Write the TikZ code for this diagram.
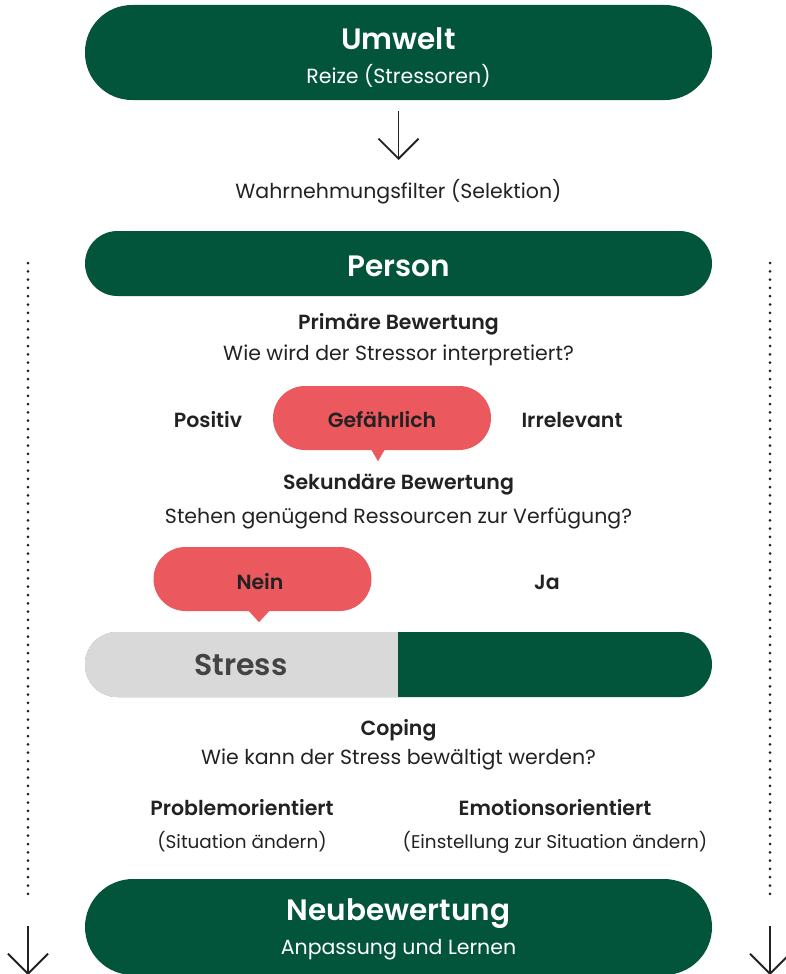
\documentclass[tikz,border=0pt]{standalone}
\usepackage{fontspec}
\setmainfont{Poppins}[BoldFont={Poppins SemiBold}]
\usetikzlibrary{arrows.meta}
\definecolor{darkgreen}{HTML}{02553A}
\definecolor{alarmred}{HTML}{EB585D}
\definecolor{lightgrey}{HTML}{D9D9D9}
\definecolor{ink}{HTML}{222222}

\begin{document}
\begin{tikzpicture}[x=1pt,y=-1pt,
        pill/.style={fill=darkgreen,minimum width=627pt,rounded corners=#1,inner sep=0pt},
        bubble/.style={fill=alarmred,minimum width=218pt,minimum height=64pt,rounded corners=32pt,inner sep=0pt},
        title/.style={text=white,yshift=-2pt,font=\bfseries\fontsize{29.5}{34}\selectfont},
        sub/.style={text=white,yshift=-2pt,font=\fontsize{20.5}{24}\selectfont},
        txt/.style={text=ink,yshift=-2pt,font=\fontsize{20.5}{24}\selectfont},
        lbl/.style={text=ink,yshift=-2pt,font=\bfseries\fontsize{20.5}{24}\selectfont},
        small/.style={text=ink,yshift=-2pt,font=\fontsize{18.4}{22}\selectfont},
        chev/.style={-{Straight Barb[length=20pt,width=40pt]},line width=1.8pt,ink},
        dots/.style={line width=3pt,line cap=round,dash pattern=on 0pt off 8.3pt,ink}]
            \useasboundingbox (0,0) rectangle (785,974);
            \node[pill=47pt,minimum height=95pt] (umwelt) at (398.5,52.5) {};
            \node[title] (umwelttitle) at (398.5,37) {Umwelt};
            \node[sub] (reize) at (398.5,74) {Reize (Stressoren)};
            \coordinate (pfeiloben) at (398.5,111);
            \coordinate (pfeilunten) at (398.5,160);
            \node[txt] (filter) at (398.5,190) {Wahrnehmungsfilter (Selektion)};
            \draw[chev] (pfeiloben) -- (pfeilunten);
            \node[pill=32.5pt,minimum height=65pt] (person) at (398.5,263.5) {};
            \node[title] (persontitle) at (398.5,264) {Person};
            \node[lbl] (primaer) at (398.5,322) {Primäre Bewertung};
            \node[txt] (frage1) at (398.5,353) {Wie wird der Stressor interpretiert?};
            \node[bubble] (gefahr) at (382,418) {};
            \fill[alarmred] ([xshift=-11pt,yshift=1pt]gefahr.south) -- ([xshift=-4pt,yshift=-11pt]gefahr.south) -- ([xshift=3pt,yshift=1pt]gefahr.south) -- cycle;
            \node[lbl] (gefahrtext) at (382,418) {Gefährlich};
            \node[lbl] (positiv) at (208,418) {Positiv};
            \node[lbl] (irrelevant) at (572,418) {Irrelevant};
            \node[lbl] (sekundaer) at (398.5,483) {Sekundäre Bewertung};
            \node[txt] (frage2) at (398.5,516) {Stehen genügend Ressourcen zur Verfügung?};
            \node[bubble] (nein) at (262.5,579) {};
            \fill[alarmred] ([xshift=-14.5pt,yshift=1pt]nein.south) -- ([xshift=-3.5pt,yshift=-11pt]nein.south) -- ([xshift=7.5pt,yshift=1pt]nein.south) -- cycle;
            \node[lbl] (neintext) at (260,580) {Nein};
            \node[lbl] (ja) at (547,580) {Ja};
            \node[pill=32.5pt,minimum height=65pt] (balken) at (398.5,664.5) {};
            \begin{scope}
                \clip[rounded corners=32.5pt] (balken.north west) rectangle (balken.south east);
                \fill[lightgrey] (balken.north west) rectangle ([xshift=-0.5pt]balken.south);
            \end{scope}
            \node[font=\bfseries\fontsize{30}{34}\selectfont,text=ink!85,yshift=-1pt] (stress) at (241,664) {Stress};
            \node[lbl] (coping) at (398.5,728) {Coping};
            \node[txt] (frage3) at (398.5,757) {Wie kann der Stress bewältigt werden?};
            \node[lbl] (problem) at (242,806) {Problemorientiert};
            \node[lbl] (emotion) at (555,806) {Emotionsorientiert};
            \node[small] (problemtext) at (242,840) {(Situation ändern)};
            \node[small] (emotiontext) at (555,840) {(Einstellung zur Situation ändern)};
            \node[pill=48pt,minimum height=96pt] (neu) at (398.5,927) {};
            \node[title] (neutitle) at (398.5,912) {Neubewertung};
            \node[sub] (anpassung) at (398.5,948) {Anpassung und Lernen};
            \coordinate (linksoben) at (28,263);
            \coordinate (linksunten) at (28,895);
            \coordinate (linkspfeil) at (28,926);
            \coordinate (linksende) at (28,975);
            \coordinate (rechtsoben) at (770,263);
            \coordinate (rechtsunten) at (770,895);
            \coordinate (rechtspfeil) at (770,926);
            \coordinate (rechtsende) at (770,975);
            \draw[dots] (linksoben) -- (linksunten);
            \draw[dots] (rechtsoben) -- (rechtsunten);
            \draw[chev] (linkspfeil) -- (linksende);
            \draw[chev] (rechtspfeil) -- (rechtsende);
        \end{tikzpicture}
\end{document}
